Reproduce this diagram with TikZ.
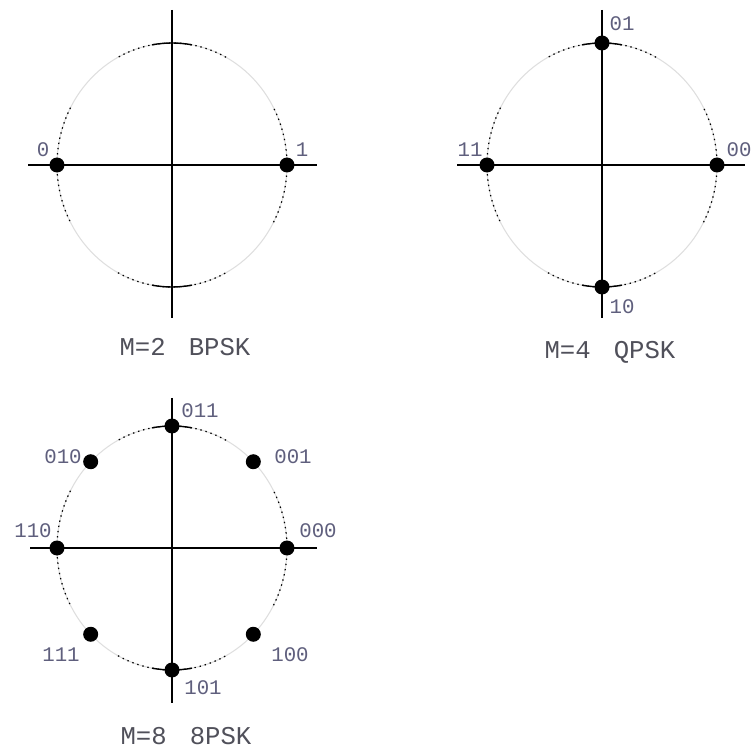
\documentclass[tikz,border=0pt]{standalone}
\usepackage{fontspec}
\newfontfamily\pskfont{Liberation Mono}
\definecolor{labelgray}{RGB}{95,95,125}
\definecolor{titlegray}{RGB}{80,80,90}
\definecolor{ringgray}{RGB}{222,222,222}
\tikzset{
  axis/.style={black, line width=1.1pt},
  ring/.style={ringgray, line width=0.6pt},
  ringdots/.style={black, line width=0.7pt, dash pattern=on 0.8pt off 2.2pt},
  dot/.style={circle, fill=black, inner sep=0pt, minimum size=0.3cm},
  bits/.style={text=labelgray, inner sep=0pt, font=\pskfont\fontsize{11.8}{12}\selectfont},
  title/.style={text=titlegray, inner sep=0pt, font=\pskfont\fontsize{14.6}{15}\selectfont}
}

\begin{document}
\begin{tikzpicture}[x=0.02cm, y=0.02cm]
        \useasboundingbox (0,0) rectangle (754,748);
        % Centres of the three constellations.
            \coordinate (cB) at (172,583);
            \coordinate (cQ) at (602,583);
            \coordinate (cE) at (172,200);
        % Axis end points.
            \coordinate (bW) at (28,583);  \coordinate (bE) at (317,583);
            \coordinate (bN) at (172,738); \coordinate (bS) at (172,430);
            \coordinate (qW) at (457,583); \coordinate (qE) at (745,583);
            \coordinate (qN) at (602,738); \coordinate (qS) at (602,430);
            \coordinate (eW) at (30,200);  \coordinate (eE) at (317,200);
            \coordinate (eN) at (172,350); \coordinate (eS) at (172,45);
        % The rings, light grey with darker dots near the axes.
        \foreach \c in {cB,cQ,cE} {
            \draw[ring] (\c) ellipse [x radius=115, y radius=122];
            \foreach \a in {0,90,180,270}
                \draw[ringdots] ([shift={(\a-28:115 and 122)}]\c) arc [start angle=\a-28, end angle=\a+28, x radius=115, y radius=122];
            \draw[black, line width=0.8pt] ([shift={(80:115 and 122)}]\c) arc [start angle=80, end angle=100, x radius=115, y radius=122];
            \draw[black, line width=0.8pt] ([shift={(260:115 and 122)}]\c) arc [start angle=260, end angle=280, x radius=115, y radius=122];
        }
        % The axes.
            \draw[axis] (bW) -- (bE);
            \draw[axis] (bN) -- (bS);
            \draw[axis] (qW) -- (qE);
            \draw[axis] (qN) -- (qS);
            \draw[axis] (eW) -- (eE);
            \draw[axis] (eN) -- (eS);
        % Signal points.
        \foreach \a in {0,180}
            \node[dot] (b\a) at ([shift={(\a:115 and 122)}]cB) {};
        \foreach \a in {0,90,180,270}
            \node[dot] (q\a) at ([shift={(\a:115 and 122)}]cQ) {};
        \foreach \a in {0,45,...,315}
            \node[dot] (e\a) at ([shift={(\a:115 and 122)}]cE) {};
        % Below nodes are the labels.
            \node[bits] (lb0) at (43,598) {0};
            \node[bits] (lb1) at (302,598) {1};
            \node[bits] (lq01) at (622,724) {01};
            \node[bits] (lq10) at (622,441) {10};
            \node[bits] (lq11) at (470,598) {11};
            \node[bits] (lq00) at (739,598) {00};
            \node[bits] (le011) at (200,337) {011};
            \node[bits] (le001) at (293,291) {001};
            \node[bits] (le010) at (63,291) {010};
            \node[bits] (le000) at (318,217) {000};
            \node[bits] (le110) at (33,217) {110};
            \node[bits] (le111) at (61,93) {111};
            \node[bits] (le100) at (290,93) {100};
            \node[bits] (le101) at (203,60) {101};
        % Titles under each ring.
            \node[title] (tB) at (185,401) {M=2\hspace{0.9em}BPSK};
            \node[title] (tQ) at (610,396) {M=4\hspace{0.9em}QPSK};
            \node[title] (tE) at (186,12) {M=8\hspace{0.9em}8PSK};
\end{tikzpicture}
\end{document}
